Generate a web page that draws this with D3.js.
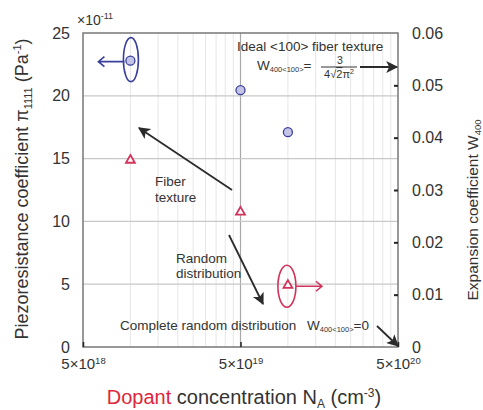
<!DOCTYPE html>
<html>
<head>
<meta charset="utf-8">
<script src="https://cdn.jsdelivr.net/npm/d3@7"></script>
<style>
  body { margin: 0; background: #fff; }
  text { font-family: "Liberation Sans", Arial, sans-serif; fill: #333; }
</style>
</head>
<body>
<div id="chart"></div>
<script>
// 1. DATA
// ======================================
var xTickValues = [5e18, 5e19, 5e20];
var xTickBase = ["5×10", "5×10", "5×10"];
var xTickExp = ["18", "19", "20"];
var xGridValues = [1e19, 1.5e19, 2e19, 2.5e19, 3e19, 3.5e19, 4e19, 4.5e19,
  1e20, 1.5e20, 2e20, 2.5e20, 3e20, 3.5e20, 4e20, 4.5e20];
var leftTicks = [0, 5, 10, 15, 20, 25];
var rightTicks = [0, 0.01, 0.02, 0.03, 0.04, 0.05, 0.06];

// pi1111 (x1e-11 Pa^-1), left axis
var piConc = [5e19, 1e20];
var piValues = [20.45, 17.1];
// W400, right axis
var wConc = [1e19, 5e19];
var wValues = [0.0357, 0.0258];
// axis key markers
var piKey = [1e19, 22.8];
var wKey = [1e20, 0.0118];

// 2. SET UP SVG
// ======================================
var svgWidth = 483;
var svgHeight = 410;
var margin = { top: 33, right: 85, bottom: 63, left: 83 };
var width = svgWidth - margin.left - margin.right;
var height = svgHeight - margin.top - margin.bottom;

var svg = d3.select("#chart")
  .append("svg")
  .attr("width", svgWidth)
  .attr("height", svgHeight);

var defs = svg.append("defs");
defs.append("marker")
  .attr("id", "head")
  .attr("viewBox", "0 0 10 10")
  .attr("refX", 9)
  .attr("refY", 5)
  .attr("markerUnits", "userSpaceOnUse")
  .attr("markerWidth", 13)
  .attr("markerHeight", 12)
  .attr("orient", "auto")
  .append("path")
  .attr("d", "M0,0 L10,5 L0,10 L2.5,5 Z")
  .attr("fill", "#2b2b2b");

var chartGroup = svg.append("g")
  .attr("transform", `translate(${margin.left}, ${margin.top})`);

// 3. SCALES
// ======================================
var xScale = d3.scaleLog().domain([5e18, 5e20]).range([0, width]);
var yLeft = d3.scaleLinear().domain([0, 25]).range([height, 0]);
var yRight = d3.scaleLinear().domain([0, 0.06]).range([height, 0]);

// 4. GRID
// ======================================
chartGroup.append("g").selectAll("line")
  .data(xGridValues)
  .enter()
  .append("line")
  .attr("x1", d => xScale(d))
  .attr("x2", d => xScale(d))
  .attr("y1", 0)
  .attr("y2", height)
  .attr("stroke", "#e6e6e6")
  .attr("stroke-width", 1);

chartGroup.append("line")
  .attr("x1", xScale(5e19))
  .attr("x2", xScale(5e19))
  .attr("y1", 0)
  .attr("y2", height)
  .attr("stroke", "#a8a8a8")
  .attr("stroke-width", 1.2);

chartGroup.append("g").selectAll("line")
  .data(leftTicks.slice(1, -1))
  .enter()
  .append("line")
  .attr("x1", 0)
  .attr("x2", width)
  .attr("y1", d => yLeft(d))
  .attr("y2", d => yLeft(d))
  .attr("stroke", "#c8c8c8")
  .attr("stroke-width", 1.2);

chartGroup.append("rect")
  .attr("width", width)
  .attr("height", height)
  .attr("fill", "none")
  .attr("stroke", "#777")
  .attr("stroke-width", 1.5);

// 5. AXES
// ======================================
var leftAxis = d3.axisLeft(yLeft).tickValues(leftTicks).tickSize(0).tickPadding(13);
var leftG = chartGroup.append("g").call(leftAxis);
leftG.select(".domain").remove();
leftG.selectAll("text")
  .style("font-family", "Liberation Sans, Arial, sans-serif")
  .style("font-size", "16px")
  .attr("fill", "#333");

var rightAxis = d3.axisRight(yRight).tickValues(rightTicks)
  .tickSizeInner(-4).tickSizeOuter(0).tickPadding(14)
  .tickFormat(d => d === 0 ? "0" : d3.format(".2f")(d));
var rightG = chartGroup.append("g")
  .attr("transform", `translate(${width}, 0)`)
  .call(rightAxis);
rightG.select(".domain").remove();
rightG.selectAll("line")
  .attr("stroke", "#222")
  .attr("stroke-width", 2)
  .filter(d => d === 0 || d === 0.06).remove();
rightG.selectAll("text")
  .style("font-family", "Liberation Sans, Arial, sans-serif")
  .style("font-size", "16px")
  .attr("fill", "#333");

var bottomAxis = d3.axisBottom(xScale).tickValues(xTickValues)
  .tickSizeInner(-5).tickSizeOuter(0).tickFormat("");
var bottomG = chartGroup.append("g")
  .attr("transform", `translate(0, ${height})`)
  .call(bottomAxis);
bottomG.select(".domain").remove();
bottomG.selectAll("line")
  .attr("stroke", "#222")
  .attr("stroke-width", 1.5);
bottomG.selectAll(".tick text").remove();
var xLabels = bottomG.selectAll(".tick")
  .append("text")
  .attr("y", 0)
  .attr("dy", 22)
  .attr("text-anchor", "middle")
  .attr("fill", "#333")
  .style("font-family", "Liberation Sans, Arial, sans-serif")
  .style("font-size", "15px");
xLabels.append("tspan").text((d, i) => xTickBase[i]);
xLabels.append("tspan")
  .attr("dy", -5)
  .style("font-size", "9.5px")
  .text((d, i) => xTickExp[i]);

// 6. MARKS
// ======================================
chartGroup.append("g").selectAll("circle")
  .data(piConc)
  .enter()
  .append("circle")
  .attr("cx", d => xScale(d))
  .attr("cy", (d, i) => yLeft(piValues[i]))
  .attr("r", 4.5)
  .attr("fill", "#c4c4e6")
  .attr("stroke", "#3a3f9c")
  .attr("stroke-width", 1.3);

var tri = d3.symbol().type(d3.symbolTriangle).size(34);
chartGroup.append("g").selectAll("path")
  .data(wConc)
  .enter()
  .append("path")
  .attr("d", tri)
  .attr("transform", (d, i) => `translate(${xScale(d)}, ${yRight(wValues[i])})`)
  .attr("fill", "#fff")
  .attr("stroke", "#d3325a")
  .attr("stroke-width", 1.8);

// 6.1 axis keys
var bx = xScale(piKey[0]), by = yLeft(piKey[1]);
chartGroup.append("ellipse")
  .attr("cx", bx + 0.5).attr("cy", by - 1).attr("rx", 7.5).attr("ry", 22)
  .attr("fill", "none").attr("stroke", "#3a3f9c").attr("stroke-width", 1.6);
chartGroup.append("path")
  .attr("d", `M${bx - 6},${by + 1} L${bx - 32},${by + 1} M${bx - 26},${by - 4} L${bx - 32},${by + 1} L${bx - 26},${by + 6}`)
  .attr("fill", "none").attr("stroke", "#3a3f9c").attr("stroke-width", 1.6);
chartGroup.append("circle")
  .attr("cx", bx).attr("cy", by).attr("r", 4.5)
  .attr("fill", "#c4c4e6").attr("stroke", "#3a3f9c").attr("stroke-width", 1.3);

var rx = xScale(wKey[0]), ry = yRight(wKey[1]);
chartGroup.append("ellipse")
  .attr("cx", rx - 1).attr("cy", ry + 1).attr("rx", 9).attr("ry", 21)
  .attr("fill", "none").attr("stroke", "#d3325a").attr("stroke-width", 1.6);
chartGroup.append("path")
  .attr("d", `M${rx + 8},${ry + 1} L${rx + 34},${ry + 1} M${rx + 28},${ry - 4} L${rx + 34},${ry + 1} L${rx + 28},${ry + 6}`)
  .attr("fill", "none").attr("stroke", "#d3325a").attr("stroke-width", 1.6);
chartGroup.append("path")
  .attr("d", tri)
  .attr("transform", `translate(${rx}, ${ry})`)
  .attr("fill", "#fff").attr("stroke", "#d3325a").attr("stroke-width", 1.8);

// 7. ANNOTATIONS (page coords)
// ======================================
var notes = svg.append("g").style("font-size", "13.5px");

function arrow(x1, y1, x2, y2) {
  notes.append("line")
    .attr("x1", x1).attr("y1", y1).attr("x2", x2).attr("y2", y2)
    .attr("stroke", "#2b2b2b").attr("stroke-width", 1.8)
    .attr("marker-end", "url(#head)");
}
arrow(232, 190, 139, 128);
arrow(229, 235, 263, 304);
arrow(360, 67, 397, 67);
arrow(377, 326, 398, 346);

notes.append("text").attr("x", 155).attr("y", 186).text("Fiber");
notes.append("text").attr("x", 155).attr("y", 202).text("texture");
notes.append("text").attr("x", 176).attr("y", 263).text("Random");
notes.append("text").attr("x", 176).attr("y", 278).text("distribution");
notes.append("text").attr("x", 237).attr("y", 51).text("Ideal <100> fiber texture");
notes.append("text").attr("x", 120).attr("y", 330).text("Complete random distribution");

var w1 = notes.append("text").attr("x", 257).attr("y", 70);
w1.append("tspan").text("W");
w1.append("tspan").attr("dy", 2).style("font-size", "7.5px").text("400<100>");
w1.append("tspan").attr("dy", -2).text("=");

notes.append("text").attr("x", 340).attr("y", 64)
  .attr("text-anchor", "middle").style("font-size", "10.5px").text("3");
notes.append("line")
  .attr("x1", 321).attr("x2", 357).attr("y1", 67).attr("y2", 67)
  .attr("stroke", "#333").attr("stroke-width", 1);
var den = notes.append("text").attr("x", 339).attr("y", 78)
  .attr("text-anchor", "middle").style("font-size", "11px");
den.append("tspan").text("4√");
den.append("tspan").style("text-decoration", "overline").text("2");
den.append("tspan").text("π");
den.append("tspan").attr("dy", -4).style("font-size", "7px").text("2");

var w2 = notes.append("text").attr("x", 307).attr("y", 330);
w2.append("tspan").text("W");
w2.append("tspan").attr("dy", 2).style("font-size", "7.5px").text("400<100>");
w2.append("tspan").attr("dy", -2).text("=0");

// 8. TITLES
// ======================================
var unitTop = svg.append("text").attr("x", 77).attr("y", 25).style("font-size", "14px");
unitTop.append("tspan").text("×10");
unitTop.append("tspan").attr("dy", -6).style("font-size", "9px").text("-11");

var yTitle = svg.append("text")
  .attr("transform", "translate(28, 189) rotate(-90)")
  .attr("text-anchor", "middle")
  .style("font-size", "18px");
yTitle.append("tspan").text("Piezoresistance coefficient π");
yTitle.append("tspan").attr("dy", 4).style("font-size", "11px").text("1111");
yTitle.append("tspan").attr("dy", -4).text(" (Pa");
yTitle.append("tspan").attr("dy", -7).style("font-size", "11px").text("-1");
yTitle.append("tspan").attr("dy", 7).text(")");

var yTitleR = svg.append("text")
  .attr("transform", "translate(478, 210) rotate(-90)")
  .attr("text-anchor", "middle")
  .style("font-size", "15.5px");
yTitleR.append("tspan").text("Expansion coefficient W");
yTitleR.append("tspan").attr("dy", 3).style("font-size", "9.5px").text("400");

var xTitle = svg.append("text")
  .attr("x", 244).attr("y", 404)
  .attr("text-anchor", "middle")
  .style("font-size", "20px");
xTitle.append("tspan").style("fill", "#e0263a").text("Dopant");
xTitle.append("tspan").text(" concentration N");
xTitle.append("tspan").attr("dy", 4).style("font-size", "12px").text("A");
xTitle.append("tspan").attr("dy", -4).text(" (cm");
xTitle.append("tspan").attr("dy", -7).style("font-size", "12px").text("-3");
xTitle.append("tspan").attr("dy", 7).text(")");
</script>
</body>
</html>
